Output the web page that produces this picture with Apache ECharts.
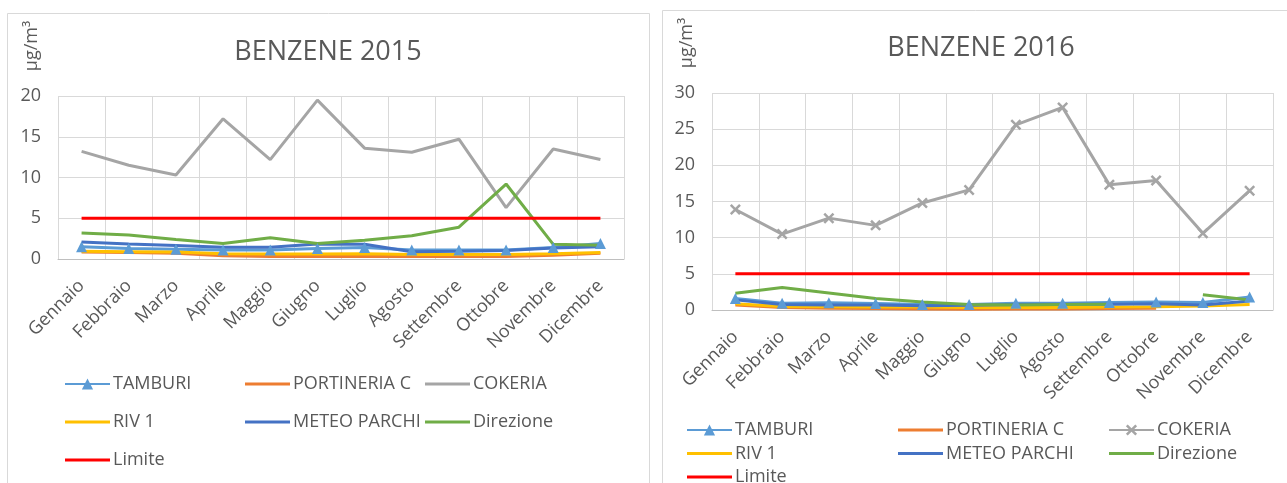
<!DOCTYPE html>
<html>
<head>
<meta charset="utf-8">
<title>Benzene 2015 - 2016</title>
<script src="https://cdn.jsdelivr.net/npm/echarts@6/dist/echarts.min.js"></script>
<style>
  html, body { margin: 0; padding: 0; background: #ffffff; width: 1287px; height: 483px; overflow: hidden; }
  #c2015 { position: absolute; left: 0; top: 0; width: 656px; height: 483px; }
  #c2016 { position: absolute; left: 656px; top: 0; width: 631px; height: 483px; }
</style>
</head>
<body>
<div id="c2015"></div>
<div id="c2016"></div>
<script>
// Monthly benzene averages (µg/m³) per monitoring station
const months = ['Gennaio', 'Febbraio', 'Marzo', 'Aprile', 'Maggio', 'Giugno',
                'Luglio', 'Agosto', 'Settembre', 'Ottobre', 'Novembre', 'Dicembre'];

const tamburi2015    = [1.5, 1.3, 1.2, 1.1, 1.1, 1.3, 1.4, 1.1, 1.1, 1.1, 1.4, 1.9];
const portineria2015 = [0.85, 0.8, 0.7, 0.4, 0.3, 0.3, 0.35, 0.3, 0.3, 0.3, 0.45, 0.7];
const cokeria2015    = [13.2, 11.5, 10.3, 17.2, 12.2, 19.5, 13.6, 13.1, 14.7, 6.3, 13.5, 12.2];
const riv2015        = [0.95, 0.9, 0.85, 0.65, 0.6, 0.6, 0.65, 0.55, 0.55, 0.55, 0.65, 0.8];
const meteo2015      = [2.1, 1.85, 1.65, 1.45, 1.45, 1.85, 1.8, 0.9, 0.95, 1.05, 1.35, 1.5];
const direzione2015  = [3.2, 2.95, 2.4, 1.9, 2.6, 1.9, 2.3, 2.85, 3.9, 9.2, 1.8, 1.7];
const limite2015     = [5, 5, 5, 5, 5, 5, 5, 5, 5, 5, 5, 5];

const tamburi2016    = [1.6, 0.95, 1.0, 0.9, 0.75, 0.75, 0.95, 0.95, 1.05, 1.1, 1.05, 1.8];
const portineria2016 = [0.7, 0.35, 0.25, 0.2, 0.15, 0.1, 0.15, 0.15, 0.2, 0.25, null, null];
const cokeria2016    = [13.9, 10.5, 12.7, 11.7, 14.8, 16.6, 25.6, 28.0, 17.3, 17.9, 10.6, 16.5];
const riv2016        = [0.85, 0.5, 0.45, 0.4, 0.4, 0.35, 0.35, 0.35, 0.4, 0.45, 0.55, 0.75];
const meteo2016      = [1.4, 0.75, 0.7, 0.7, 0.6, 0.65, 0.75, 0.8, 0.8, 0.85, 0.7, 1.25];
const direzione2016  = [2.3, 3.1, 2.35, 1.6, 1.1, 0.75, 0.7, 0.75, 0.8, null, 2.1, 1.4];
const limite2016     = [5, 5, 5, 5, 5, 5, 5, 5, 5, 5, 5, 5];

const FONT = '"Open Sans", "Liberation Sans", sans-serif';
const TEXT = '#595959';
const GRID_LINE = '#D9D9D9';

const COLORS = {
  'TAMBURI': '#5B9BD5',
  'PORTINERIA C': '#ED7D31',
  'COKERIA': '#A5A5A5',
  'RIV 1': '#FFC000',
  'METEO PARCHI': '#4472C4',
  'Direzione': '#70AD47',
  'Limite': '#FF0000'
};

// plain line legend key (bounding box forced to the full icon cell)
const LINE_ICON = 'path://M0,0M45,14M0,5.5H45V8.5H0Z';
// filled "x" marker
const X_MARK = 'path://M1.6,0L5,3.4L8.4,0L10,1.6L6.6,5L10,8.4L8.4,10L5,6.6L1.6,10L0,8.4L3.4,5L0,1.6Z';

const LEGEND_COLUMNS = [
  ['TAMBURI', 'RIV 1', 'Limite'],
  ['PORTINERIA C', 'METEO PARCHI'],
  ['COKERIA', 'Direzione']
];

function lineSeries(name, values, marker) {
  const color = COLORS[name];
  const s = {
    type: 'line',
    name: name,
    data: values,
    color: color,
    lineStyle: { width: 3, color: color },
    itemStyle: { color: color },
    symbol: 'none',
    emphasis: { disabled: true },
    silent: true,
    animation: false
  };
  if (marker) {
    s.symbol = marker.symbol;
    s.symbolSize = marker.size;
    s.showSymbol = true;
    s.showAllSymbol = true;
  }
  return s;
}

function buildOption(cfg) {
  const markers = cfg.markers;
  const series = [
    lineSeries('TAMBURI', cfg.data.tamburi, markers['TAMBURI']),
    lineSeries('PORTINERIA C', cfg.data.portineria, markers['PORTINERIA C']),
    lineSeries('COKERIA', cfg.data.cokeria, markers['COKERIA']),
    lineSeries('RIV 1', cfg.data.riv, markers['RIV 1']),
    lineSeries('METEO PARCHI', cfg.data.meteo, markers['METEO PARCHI']),
    lineSeries('Direzione', cfg.data.direzione, markers['Direzione']),
    lineSeries('Limite', cfg.data.limite, markers['Limite'])
  ];

  // one vertical legend per column, so the columns line up
  const legends = LEGEND_COLUMNS.map(function (col, i) {
    return {
      orient: 'vertical',
      left: cfg.legendLeft[i],
      top: cfg.legendTop,
      width: 200,
      height: 150,
      padding: 0,
      itemGap: cfg.legendGap,
      itemWidth: 45,
      itemHeight: 14,
      symbolKeepAspect: true,
      selectedMode: false,
      itemStyle: { borderWidth: 0 },
      textStyle: { fontFamily: FONT, fontSize: 18, color: TEXT, padding: [0, 0, 0, -2] },
      data: col.map(function (name) {
        return markers[name] ? { name: name } : { name: name, icon: LINE_ICON };
      })
    };
  });

  return {
    backgroundColor: '#ffffff',
    animation: false,
    textStyle: { fontFamily: FONT },
    title: {
      text: cfg.title,
      left: cfg.titleX,
      top: cfg.titleY,
      padding: 0,
      textAlign: 'center',
      textVerticalAlign: 'middle',
      textStyle: { fontFamily: FONT, fontSize: 27, fontWeight: 'normal', color: TEXT }
    },
    legend: legends,
    grid: Object.assign({ containLabel: false }, cfg.grid),
    xAxis: {
      type: 'category',
      data: months,
      boundaryGap: true,
      axisLine: { show: true, lineStyle: { color: '#BFBFBF', width: 1 } },
      axisTick: { show: false },
      splitLine: { show: true, interval: 0, lineStyle: { color: GRID_LINE, width: 1 } },
      axisLabel: {
        interval: 0,
        rotate: 45,
        margin: 24,
        fontFamily: FONT,
        fontSize: 18,
        color: TEXT
      }
    },
    yAxis: {
      type: 'value',
      min: 0,
      max: cfg.yMax,
      interval: 5,
      axisLine: { show: false },
      axisTick: { show: false },
      splitLine: { show: true, lineStyle: { color: GRID_LINE, width: 1 } },
      axisLabel: { margin: 17, fontFamily: FONT, fontSize: 18, color: TEXT }
    },
    graphic: [
      {
        type: 'rect',
        silent: true,
        z: -10,
        shape: cfg.frame,
        style: { fill: 'none', stroke: GRID_LINE, lineWidth: 1 }
      },
      {
        type: 'text',
        silent: true,
        x: cfg.unit.x,
        y: cfg.unit.y,
        rotation: Math.PI / 2,
        style: {
          text: 'µg/m³',
          font: '18px ' + FONT,
          fill: TEXT,
          align: 'center',
          verticalAlign: 'middle'
        }
      }
    ],
    series: series
  };
}

const chart2015 = echarts.init(document.getElementById('c2015'), null, { renderer: 'canvas' });
chart2015.setOption(buildOption({
  title: 'BENZENE 2015',
  titleX: 328,
  titleY: 52,
  yMax: 20,
  grid: { left: 58, top: 96, width: 566, height: 163 },
  frame: { x: 7.5, y: 13.5, width: 642, height: 500 },
  unit: { x: 32, y: 46 },
  legendLeft: [64, 245, 425],
  legendTop: 375,
  legendGap: 20,
  markers: { 'TAMBURI': { symbol: 'triangle', size: 11 } },
  data: {
    tamburi: tamburi2015, portineria: portineria2015, cokeria: cokeria2015,
    riv: riv2015, meteo: meteo2015, direzione: direzione2015, limite: limite2015
  }
}));

const chart2016 = echarts.init(document.getElementById('c2016'), null, { renderer: 'canvas' });
chart2016.setOption(buildOption({
  title: 'BENZENE 2016',
  titleX: 325,
  titleY: 48,
  yMax: 30,
  grid: { left: 56, top: 93, width: 561, height: 217 },
  frame: { x: 6.5, y: 10.5, width: 700, height: 500 },
  unit: { x: 31, y: 43 },
  legendLeft: [30, 242, 452],
  legendTop: 421,
  legendGap: 5.5,
  markers: {
    'TAMBURI': { symbol: 'triangle', size: 11 },
    'COKERIA': { symbol: X_MARK, size: 11 }
  },
  data: {
    tamburi: tamburi2016, portineria: portineria2016, cokeria: cokeria2016,
    riv: riv2016, meteo: meteo2016, direzione: direzione2016, limite: limite2016
  }
}));
</script>
</body>
</html>
